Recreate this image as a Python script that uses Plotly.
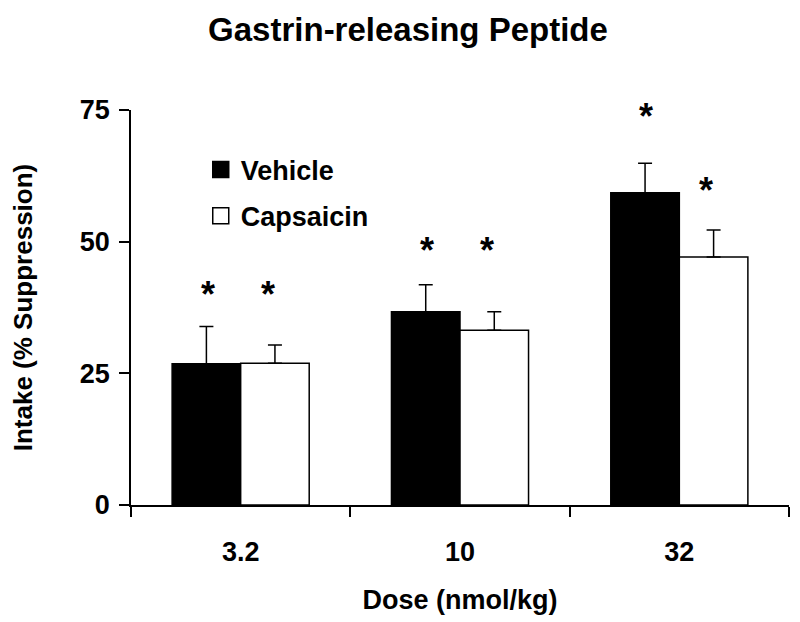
import plotly.graph_objects as go

doses = ["3.2", "10", "32"]
vehicle = [26.8, 36.7, 59.3]
vehicle_err = [7.1, 5.1, 5.6]
capsaicin = [26.9, 33.2, 47.1]
capsaicin_err = [3.5, 3.5, 5.1]
star_vehicle = [40.8, 49.0, 74.6]
star_capsaicin = [40.8, 49.0, 60.4]
yticks = [0, 25, 50, 75]

FONT = "Liberation Sans, Arial, sans-serif"

fig = go.Figure()
fig.add_trace(go.Bar(
    x=doses, y=vehicle, name="Vehicle", showlegend=False,
    marker=dict(color="black", line=dict(color="black", width=1.5)),
    error_y=dict(type="data", array=vehicle_err, arrayminus=[0]*3, symmetric=False,
                 color="black", thickness=1.5, width=7),
))
fig.add_trace(go.Bar(
    x=doses, y=capsaicin, name="Capsaicin", showlegend=False,
    marker=dict(color="white", line=dict(color="black", width=1.5)),
    error_y=dict(type="data", array=capsaicin_err, arrayminus=[0]*3, symmetric=False,
                 color="black", thickness=1.5, width=7),
))
# legend entries
fig.add_trace(go.Scatter(x=[doses[0]], y=[None], mode="markers", name="Vehicle",
                         legendgroup="a",
                         marker=dict(symbol="square", size=19, color="black",
                                     line=dict(color="black", width=1.5))))
fig.add_trace(go.Scatter(x=[doses[0]], y=[None], mode="markers", name="Capsaicin",
                         legendgroup="b",
                         marker=dict(symbol="square", size=19, color="white",
                                     line=dict(color="black", width=1.5))))

for i, (sv, sc) in enumerate(zip(star_vehicle, star_capsaicin)):
    for yv, xs in ((sv, -33), (sc, 27)):
        fig.add_annotation(x=i, y=yv, xref="x", yref="y", text="*", showarrow=False,
                           xshift=xs, yshift=-4,
                           font=dict(family=FONT, size=36, color="black", weight="bold"))

fig.update_layout(
    width=800, height=622,
    margin=dict(l=123, r=19, t=102, b=125, autoexpand=False),
    paper_bgcolor="white", plot_bgcolor="white",
    barmode="group", bargap=0.375, bargroupgap=0,
    title=dict(text="Gastrin-releasing Peptide", x=0.5, xanchor="center",
               y=0.966, yanchor="middle",
               font=dict(family=FONT, size=33, color="black", weight="bold")),
    font=dict(family=FONT, color="black"),
    legend=dict(x=0.106, y=0.91, xanchor="left", yanchor="top",
                traceorder="grouped", tracegroupgap=8,
                bgcolor="rgba(0,0,0,0)",
                font=dict(family=FONT, size=27, color="black", weight="bold")),
    xaxis=dict(
        type="category", categoryorder="array", categoryarray=doses,
        range=[-0.5, 2.5], automargin=False,
        showline=True, linecolor="black", linewidth=1.5,
        ticks="outside", tickson="boundaries", ticklen=10, tickcolor="black", tickwidth=1.5,
        showgrid=False, ticklabelstandoff=22, tickangle=0,
        tickfont=dict(family=FONT, size=27, color="black", weight="bold"),
        title=dict(text="Dose (nmol/kg)", standoff=24,
                   font=dict(family=FONT, size=27, color="black", weight="bold")),
    ),
    yaxis=dict(
        range=[0, 75], tickvals=yticks, showline=True, linecolor="black", linewidth=1.5,
        ticks="outside", ticklen=10, tickcolor="black", tickwidth=1.5, automargin=False,
        showgrid=False, zeroline=False, ticklabelstandoff=4,
        tickfont=dict(family=FONT, size=27, color="black", weight="bold"),
        title=dict(text="Intake (% Suppression)", standoff=40,
                   font=dict(family=FONT, size=26, color="black", weight="bold")),
    ),
)

fig.write_html("out.html")
